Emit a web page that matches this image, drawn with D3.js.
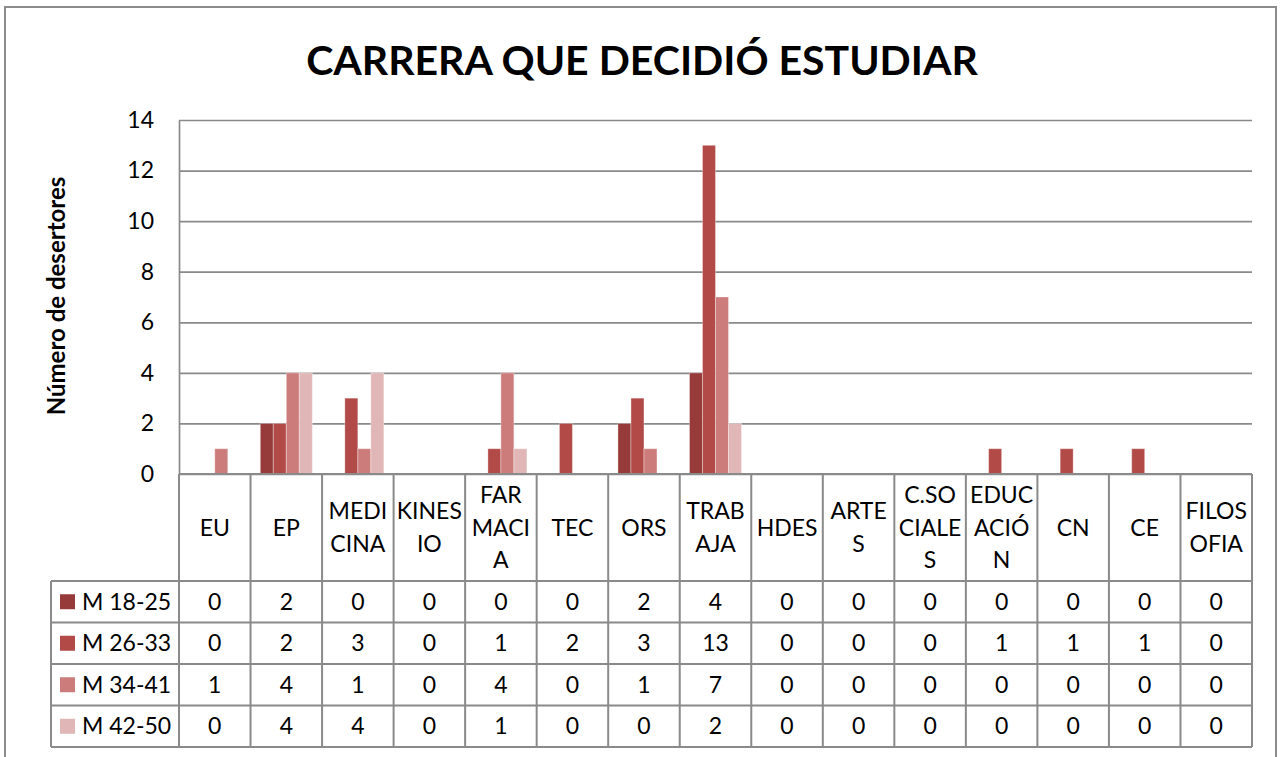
<!DOCTYPE html>
<html>
<head>
<meta charset="utf-8">
<script src="https://cdn.jsdelivr.net/npm/d3@7"></script>
<style>
  body { margin: 0; background: #fff; }
  svg { display: block; font-family: Lato, "Noto Sans", sans-serif; }
</style>
</head>
<body>
<div id="chart"></div>
<script>
const categories = ["EU", "EP", "MEDICINA", "KINESIO", "FARMACIA", "TEC", "ORS", "TRABAJA", "HDES", "ARTES", "C.SOCIALES", "EDUCACIÓN", "CN", "CE", "FILOSOFIA"];
const categoryLines = [["EU"], ["EP"], ["MEDI", "CINA"], ["KINES", "IO"], ["FAR", "MACI", "A"], ["TEC"], ["ORS"], ["TRAB", "AJA"], ["HDES"], ["ARTE", "S"], ["C.SO", "CIALE", "S"], ["EDUC", "ACIÓ", "N"], ["CN"], ["CE"], ["FILOS", "OFIA"]];
const seriesNames = ["M 18-25", "M 26-33", "M 34-41", "M 42-50"];
const m1825 = [0, 2, 0, 0, 0, 0, 2, 4, 0, 0, 0, 0, 0, 0, 0];
const m2633 = [0, 2, 3, 0, 1, 2, 3, 13, 0, 0, 0, 1, 1, 1, 0];
const m3441 = [1, 4, 1, 0, 4, 0, 1, 7, 0, 0, 0, 0, 0, 0, 0];
const m4250 = [0, 4, 4, 0, 1, 0, 0, 2, 0, 0, 0, 0, 0, 0, 0];
const yTicks = [0, 2, 4, 6, 8, 10, 12, 14];

const seriesValues = [m1825, m2633, m3441, m4250];
const colors = ["#963b3a", "#b24a47", "#cc7c7b", "#e0b6b6"];

const w = 1283;
const h = 757;
const plotLeft = 179, plotRight = 1252, plotTop = 120, plotBottom = 474;
const tableLeft = 51, headerBottom = 581, rowH = 41.5;
const gridColor = "#8a8a8a";

const svg = d3.select("#chart")
    .append("svg")
    .attr("width", w)
    .attr("height", h);

// outer frame
svg.append("rect")
    .attr("x", 5).attr("y", 7)
    .attr("width", 1271).attr("height", 780)
    .attr("fill", "none")
    .attr("stroke", "#8c8c8c")
    .attr("stroke-width", 2);

svg.append("text")
    .attr("x", 642).attr("y", 75)
    .attr("text-anchor", "middle")
    .style("font-size", "41px")
    .style("font-weight", "bold")
    .text("CARRERA QUE DECIDIÓ ESTUDIAR");

const x = d3.scaleBand()
    .domain(categories)
    .range([plotLeft, plotRight])
    .padding(0);

const x1 = d3.scaleBand()
    .domain(seriesNames)
    .range([0, x.bandwidth()])
    .paddingInner(0)
    .paddingOuter(0.75);

const y = d3.scaleLinear()
    .domain([0, 14])
    .range([plotBottom, plotTop]);

const yAxis = d3.axisLeft(y)
    .tickValues(yTicks)
    .tickSizeInner(-(plotRight - plotLeft))
    .tickSizeOuter(0)
    .tickPadding(25)
    .tickFormat(d3.format("d"));

const gy = svg.append("g")
    .attr("transform", `translate(${plotLeft},0)`)
    .call(yAxis);
gy.selectAll("line").attr("stroke", gridColor).attr("stroke-width", 1.7);
gy.select(".domain").attr("stroke", gridColor).attr("stroke-width", 1.7);
gy.selectAll("text")
    .style("font-size", "23px")
    .style("font-family", "Lato, sans-serif")
    .attr("fill", "#000");

svg.append("text")
    .attr("transform", "translate(65,296) rotate(-90)")
    .attr("text-anchor", "middle")
    .style("font-size", "24px")
    .style("font-weight", "bold")
    .text("Número de desertores");

// bars
const barData = [];
seriesValues.forEach((vals, s) => {
    vals.forEach((v, i) => barData.push({ s: s, cat: categories[i], v: v }));
});

svg.append("g")
    .selectAll("rect")
    .data(barData.filter(d => d.v > 0))
    .enter()
    .append("rect")
    .attr("x", d => x(d.cat) + x1(seriesNames[d.s]))
    .attr("y", d => y(d.v))
    .attr("width", x1.bandwidth())
    .attr("height", d => y(0) - y(d.v))
    .attr("fill", d => colors[d.s])
    .attr("stroke", "rgba(255,255,255,0.35)")
    .attr("stroke-width", 1);

// data table
const table = svg.append("g");
const rowY = i => headerBottom + i * rowH;

table.append("line")
    .attr("x1", plotLeft).attr("x2", plotRight)
    .attr("y1", plotBottom).attr("y2", plotBottom)
    .attr("stroke", gridColor).attr("stroke-width", 2);

d3.range(seriesNames.length + 1).forEach(i => {
    table.append("line")
        .attr("x1", tableLeft).attr("x2", plotRight)
        .attr("y1", rowY(i)).attr("y2", rowY(i))
        .attr("stroke", gridColor).attr("stroke-width", 2);
});

table.append("line")
    .attr("x1", tableLeft).attr("x2", tableLeft)
    .attr("y1", headerBottom).attr("y2", rowY(seriesNames.length))
    .attr("stroke", gridColor).attr("stroke-width", 2);

categories.concat([null]).forEach(c => {
    const xx = c === null ? plotRight : x(c);
    table.append("line")
        .attr("x1", xx).attr("x2", xx)
        .attr("y1", plotBottom).attr("y2", rowY(seriesNames.length))
        .attr("stroke", gridColor).attr("stroke-width", 2);
});

// header labels
const lineH = 32.5;
const headerMid = (plotBottom + headerBottom) / 2;
categories.forEach((c, i) => {
    const lines = categoryLines[i];
    const t = table.append("text")
        .attr("text-anchor", "middle")
        .style("font-size", "23px");
    lines.forEach((ln, j) => {
        t.append("tspan")
            .attr("x", x(c) + x.bandwidth() / 2)
            .attr("y", headerMid + (j - (lines.length - 1) / 2) * lineH + 8)
            .text(ln);
    });
});

// rows
seriesNames.forEach((name, s) => {
    const cy = rowY(s) + rowH / 2;
    table.append("rect")
        .attr("x", 60).attr("y", cy - 7.5)
        .attr("width", 15).attr("height", 15)
        .attr("fill", colors[s]);
    table.append("text")
        .attr("x", 82).attr("y", cy + 8)
        .style("font-size", "23px")
        .text(name);
    seriesValues[s].forEach((v, i) => {
        table.append("text")
            .attr("x", x(categories[i]) + x.bandwidth() / 2)
            .attr("y", cy + 8)
            .attr("text-anchor", "middle")
            .style("font-size", "23px")
            .text(v);
    });
});
</script>
</body>
</html>
